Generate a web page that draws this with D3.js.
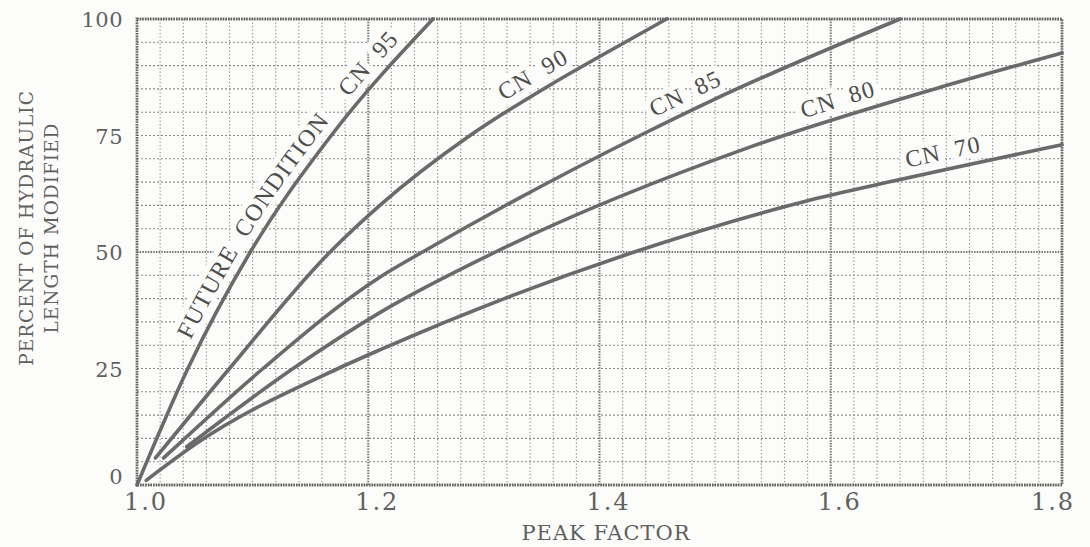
<!DOCTYPE html>
<html>
<head>
<meta charset="utf-8">
<script src="https://cdn.jsdelivr.net/npm/d3@7/dist/d3.min.js"></script>
<style>
  body { margin: 0; background: #fcfcfa; }
  svg { display: block; }
  .tick-label { font-family: 'DejaVu Serif', 'Liberation Serif', serif; fill: #606060; }
  .curve-label { font-family: 'Liberation Serif', 'DejaVu Serif', serif; white-space: pre; }
</style>
</head>
<body>
<svg id="chart"></svg>
<script>
const width = 1090;
const height = 547;
const margin = { top: 19, right: 28, bottom: 62, left: 137 };

// axis ticks
const peakTicks = [1.0, 1.2, 1.4, 1.6, 1.8];
const percentTicks = [0, 25, 50, 75, 100];

// curves: [peak factor, percent of hydraulic length modified]
const cn95 = [[1.0, 0], [1.044, 25], [1.098, 50], [1.168, 75], [1.256, 100]];
const cn90 = [[1.016, 5.8], [1.08, 25], [1.167, 50], [1.21, 60], [1.288, 75], [1.357, 85.8], [1.399, 91.8], [1.458, 100]];
const cn85 = [[1.023, 5.8], [1.109, 25], [1.21, 44.6], [1.247, 50], [1.435, 75], [1.498, 82.6], [1.66, 100]];
const cn80 = [[1.043, 8.2], [1.135, 25], [1.21, 37], [1.31, 50], [1.53, 72.5], [1.69, 85], [1.8, 92.7]];
const cn70 = [[1.008, 1], [1.052, 9], [1.174, 25], [1.21, 29], [1.43, 50], [1.58, 61], [1.65, 65], [1.8, 73]];

const curveNames = ['FUTURE  CONDITION    CN  95', 'CN  90', 'CN  85', 'CN  80', 'CN  70'];
const curveData = [cn95, cn90, cn85, cn80, cn70];
const labelAt = [1.054, 1.322, 1.451, 1.579, 1.668];

const svg = d3.select('#chart')
  .attr('width', width)
  .attr('height', height);

svg.append('rect').attr('width', width).attr('height', height).attr('fill', '#fcfcfa');

const x = d3.scaleLinear().domain([1.0, 1.8]).range([margin.left, width - margin.right]);
const y = d3.scaleLinear().domain([0, 100]).range([height - margin.bottom, margin.top]);

// grid: fine dotted lines every 0.02 / 5 %, heavier at 0.2 and 50 %
const grid = svg.append('g').attr('class', 'grid');
const xGrid = d3.range(0, 41).map(i => 1 + i * 0.02);
const yGrid = d3.range(0, 21).map(i => i * 5);
const isMajorX = v => [1.2, 1.4, 1.6].some(m => Math.abs(m - v) < 1e-6);
const isMajorY = v => v === 50;

grid.selectAll('line.v').data(xGrid.filter(v => !isMajorX(v))).join('line')
  .attr('x1', d => x(d)).attr('x2', d => x(d))
  .attr('y1', y(100)).attr('y2', y(0))
  .attr('stroke', '#8a8a8a').attr('stroke-width', 1.1).attr('stroke-dasharray', '1.2,2.3');
grid.selectAll('line.h').data(yGrid.filter(v => !isMajorY(v))).join('line')
  .attr('y1', d => y(d)).attr('y2', d => y(d))
  .attr('x1', x(1)).attr('x2', x(1.8))
  .attr('stroke', '#8a8a8a').attr('stroke-width', 1.1).attr('stroke-dasharray', '2,2');
grid.selectAll('line.vm').data(xGrid.filter(isMajorX)).join('line')
  .attr('x1', d => x(d)).attr('x2', d => x(d))
  .attr('y1', y(100)).attr('y2', y(0))
  .attr('stroke', '#777').attr('stroke-width', 2).attr('stroke-dasharray', '1.5,1.2');
grid.selectAll('line.hm').data(yGrid.filter(isMajorY)).join('line')
  .attr('y1', d => y(d)).attr('y2', d => y(d))
  .attr('x1', x(1)).attr('x2', x(1.8))
  .attr('stroke', '#777').attr('stroke-width', 2).attr('stroke-dasharray', '1.5,1.2');

// frame
svg.append('rect')
  .attr('x', x(1)).attr('y', y(100))
  .attr('width', x(1.8) - x(1)).attr('height', y(0) - y(100))
  .attr('fill', 'none').attr('stroke', '#666').attr('stroke-width', 2.8)
  .attr('stroke-dasharray', '1.6,1');

// curves
const line = d3.line()
  .x(d => x(d[0]))
  .y(d => y(d[1]))
  .curve(d3.curveMonotoneX);

const labelG = svg.append('g');
const curveG = svg.append('g');
const paths = curveG.selectAll('path').data(curveData).join('path')
  .attr('id', (d, i) => 'curve' + i)
  .attr('d', line)
  .attr('fill', 'none')
  .attr('stroke', '#6a6a6a')
  .attr('stroke-width', 3.6)
  .attr('stroke-linecap', 'round');

// labels follow each curve
function lengthAtX(node, target) {
  let lo = 0, hi = node.getTotalLength();
  for (let k = 0; k < 40; k++) {
    const mid = (lo + hi) / 2;
    if (node.getPointAtLength(mid).x < target) lo = mid; else hi = mid;
  }
  return lo;
}

function addLabel(i, offset, halo) {
  const t = labelG.append('text')
    .attr('class', 'curve-label')
    .attr('font-size', 24)
    .attr('letter-spacing', 1.2);
  if (halo) {
    t.attr('fill', '#fcfcfa').attr('stroke', '#fcfcfa')
      .attr('stroke-width', 12).attr('stroke-linejoin', 'round');
  } else {
    t.attr('fill', '#4d4d4d');
  }
  t.append('textPath')
    .attr('href', '#curve' + i)
    .attr('startOffset', offset)
    .append('tspan')
    .attr('dy', -10)
    .text(curveNames[i]);
}

paths.each(function (d, i) {
  const offset = lengthAtX(this, x(labelAt[i]));
  addLabel(i, offset, true);
});
paths.each(function (d, i) {
  const offset = lengthAtX(this, x(labelAt[i]));
  addLabel(i, offset, false);
});

// axes labels
svg.append('g').selectAll('text').data(peakTicks).join('text')
  .attr('class', 'tick-label')
  .attr('font-size', 24)
  .attr('letter-spacing', 2)
  .attr('text-anchor', 'middle')
  .attr('x', (d, i) => x(d) + (i === peakTicks.length - 1 ? -9 : 9))
  .attr('y', 510)
  .text(d => d.toFixed(1));

svg.append('g').selectAll('text').data(percentTicks).join('text')
  .attr('class', 'tick-label')
  .attr('font-size', 21)
  .attr('letter-spacing', 0.5)
  .attr('text-anchor', 'end')
  .attr('x', x(1) - 14)
  .attr('y', d => Math.min(y(d), y(0) - 9) + 8)
  .text(d => d);

svg.append('text')
  .attr('class', 'tick-label')
  .attr('font-size', 21)
  .attr('letter-spacing', 1)
  .attr('text-anchor', 'middle')
  .attr('x', 606).attr('y', 540)
  .text('PEAK FACTOR');

const yTitle = svg.append('g').attr('transform', 'translate(0,228) rotate(-90)');
yTitle.append('text')
  .attr('class', 'tick-label')
  .attr('font-size', 18.5)
  .attr('letter-spacing', 1)
  .attr('text-anchor', 'middle')
  .attr('x', 0).attr('y', 33)
  .text('PERCENT OF HYDRAULIC');
yTitle.append('text')
  .attr('class', 'tick-label')
  .attr('font-size', 18.5)
  .attr('letter-spacing', 1)
  .attr('text-anchor', 'middle')
  .attr('x', 0).attr('y', 58)
  .text('LENGTH MODIFIED');
</script>
</body>
</html>
